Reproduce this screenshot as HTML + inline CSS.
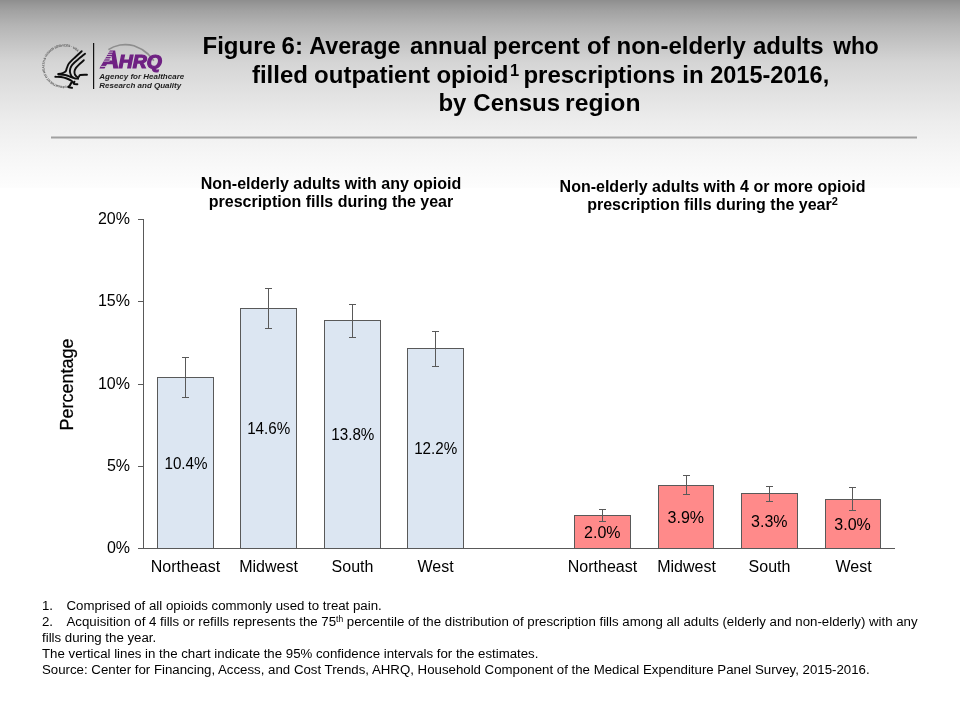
<!DOCTYPE html>
<html lang="en">
<head>
<meta charset="utf-8">
<title>Figure 6: Average annual percent of non-elderly adults who filled outpatient opioid prescriptions in 2015-2016, by Census region</title>
<style>
html,body{margin:0;padding:0;background:#fff;}
body{width:960px;height:720px;overflow:hidden;position:relative;}
svg{display:block;position:absolute;left:0;top:0;}
text{font-family:"Liberation Sans",sans-serif;fill:#000;}
.t2 text{font-size:24px;font-weight:bold;}
.ct{font-size:16px;font-weight:bold;text-anchor:middle;}
.ax{font-size:16px;fill:#1a1a1a;}
.ring{font-size:3.2px;fill:#555;font-weight:bold;}
.ahrq{font-weight:bold;font-style:italic;fill:#6f2183;stroke:#6f2183;stroke-width:1px;stroke-linejoin:miter;}
.agency{font-size:8px;font-weight:bold;font-style:italic;fill:#1c1c1c;}
.fn{font-size:13.25px;fill:#000;}
.bar1{fill:#dce6f2;stroke:#595959;stroke-width:1;}
.bar2{fill:#ff8a8a;stroke:#595959;stroke-width:1;}
.ln{stroke:#595959;stroke-width:1;fill:none;shape-rendering:crispEdges;}
</style>
</head>
<body>
<svg width="960" height="720" viewBox="0 0 960 720">
<defs>
<linearGradient id="bg" x1="0" y1="0" x2="0" y2="188" gradientUnits="userSpaceOnUse">
<stop offset="0.0000" stop-color="#8e8e8e"/>
<stop offset="0.0266" stop-color="#989898"/>
<stop offset="0.0585" stop-color="#a2a2a2"/>
<stop offset="0.1383" stop-color="#b5b5b5"/>
<stop offset="0.2261" stop-color="#c4c4c4"/>
<stop offset="0.3324" stop-color="#d5d5d5"/>
<stop offset="0.4574" stop-color="#dfdfdf"/>
<stop offset="0.6489" stop-color="#ededed"/>
<stop offset="0.8245" stop-color="#f6f6f6"/>
<stop offset="1.0000" stop-color="#fdfdfd"/>
</linearGradient>
</defs>
<rect x="0" y="0" width="960" height="188" fill="url(#bg)"/>

<!-- logo -->
<g id="logo">
<defs><path id="ring" d="M66.5 85.75 A19.7 19.7 0 1 1 78.25 52.5"/></defs>
<text class="ring"><textPath href="#ring" textLength="79" lengthAdjust="spacing">DEPARTMENT OF HEALTH &amp; HUMAN SERVICES · USA</textPath></text>
<g fill="none" stroke="#0d0d0d" stroke-width="1.9" stroke-linecap="round" stroke-linejoin="round">
<path d="M81.7 51.2C80.6 52.2 77.3 55.2 75.2 57.2C73.0 59.3 70.3 61.8 68.9 63.5C67.6 65.2 67.6 66.3 67.0 67.7C66.4 69.0 66.3 70.5 65.6 71.4C64.9 72.3 63.9 72.7 62.7 73.1C61.5 73.5 59.1 73.8 58.3 73.9"/>
<path d="M85.0 53.7C83.8 54.7 79.8 57.9 77.7 59.8C75.5 61.6 73.5 63.3 72.2 64.8C71.0 66.2 70.7 67.2 70.3 68.5C70.0 69.8 69.8 71.0 70.0 72.2C70.2 73.5 70.9 75.1 71.4 76.0C71.9 76.9 72.8 77.2 73.1 77.5"/>
<path d="M83.8 60.2C83.0 60.9 80.7 63.0 79.3 64.3C78.0 65.7 76.6 66.9 75.8 68.1C75.0 69.3 74.6 70.3 74.5 71.4C74.4 72.5 74.5 73.8 75.0 74.8C75.5 75.7 76.6 76.7 77.2 77.0C77.9 77.3 78.4 77.0 78.9 76.7C79.4 76.3 78.8 75.3 80.2 75.0C81.5 74.7 85.9 74.8 87.0 74.8"/>
<path d="M55.3 76.8C56.3 76.9 59.1 76.7 61.0 77.0C62.9 77.3 65.0 77.8 66.8 78.5C68.6 79.2 70.8 80.3 71.8 81.0C72.9 81.7 73.1 82.5 73.3 82.8"/>
<path d="M58.5 74.5C59.6 74.6 63.1 74.6 65.2 75.0C67.2 75.4 69.3 76.4 71.0 77.0C72.7 77.6 74.0 78.2 75.2 78.5C76.3 78.8 77.6 78.6 78.1 78.7"/>
<path d="M71.4 82.7C71.1 83.2 70.3 84.9 69.8 85.6C69.2 86.3 68.0 86.6 68.3 87.0C68.7 87.4 71.4 87.7 72.0 87.8" stroke-width="2.1"/>
<path d="M74.5 81.7C74.4 82.0 73.2 83.5 73.7 83.9C74.2 84.4 76.8 84.3 77.4 84.3"/>
</g>
<rect x="93" y="43" width="1.2" height="46" fill="#111"/>
<path d="M108.4 49.6 Q113 46.4 120 45 Q127 43.8 134 45.8 Q142 48.6 148 54 Q151.5 57.4 153.8 60.8" fill="none" stroke="#8e8e8e" stroke-width="1.7"/>
<text class="ahrq" x="101" y="68.2" textLength="18.4" lengthAdjust="spacingAndGlyphs" style="font-size:23.4px;stroke-width:1.2px">A</text>
<clipPath id="aleg"><path d="M99.5 69.6 L106.8 69.6 L113.4 50.5 L109.2 50.5 Z"/></clipPath>
<path clip-path="url(#aleg)" d="M99 52.1H113 M99 54.35H113 M99 56.6H113 M99 58.85H113 M99 61.1H113 M99 66.4H113" stroke="#d0d0d0" stroke-width="0.9" fill="none"/>
<text class="ahrq" x="118.7" y="68.2" textLength="43" lengthAdjust="spacingAndGlyphs" style="font-size:17.6px;stroke-width:1.2px">HRQ</text>
<text class="agency" x="99.3" y="78.6">Agency for Healthcare</text>
<text class="agency" x="99.3" y="88.2">Research and Quality</text>
</g>

<!-- title -->
<g class="t2">
<text y="54"><tspan x="202.5">Figure</tspan> <tspan x="281.6">6:</tspan> <tspan x="309.2" textLength="91.2" lengthAdjust="spacingAndGlyphs">Average</tspan> <tspan x="410.1">annual</tspan> <tspan x="493.1">percent</tspan> <tspan x="587">of</tspan> <tspan x="616.5">non-elderly</tspan> <tspan x="753">adults</tspan> <tspan x="833.2" textLength="45.6" lengthAdjust="spacingAndGlyphs">who</tspan></text>
<text y="82.5"><tspan x="251.9">filled</tspan> <tspan x="314.1">outpatient</tspan> <tspan x="436.4">opioid</tspan><tspan x="509.9" dy="-7" font-size="16.5px">1</tspan> <tspan x="523.4" dy="7">prescriptions</tspan> <tspan x="682.3">in</tspan> <tspan x="710.2" textLength="119" lengthAdjust="spacingAndGlyphs">2015-2016,</tspan></text>
<text y="111"><tspan x="438.4">by</tspan> <tspan x="473.3">Census</tspan> <tspan x="565.1" textLength="75.4" lengthAdjust="spacingAndGlyphs">region</tspan></text>
</g>
<rect x="51" y="136.5" width="866" height="2" fill="#a0a0a0"/>

<!-- chart titles -->
<text class="ct" x="331" y="189">Non-elderly adults with any opioid</text>
<text class="ct" x="331" y="207">prescription fills during the year</text>
<text class="ct" x="712.5" y="191.5">Non-elderly adults with 4 or more opioid</text>
<text class="ct" x="712.5" y="210">prescription fills during the year<tspan font-size="11px" dy="-5">2</tspan></text>

<!-- axes -->
<path class="ln" d="M143.5 219V548.5 M143.5 548.5H895 M138 219.5H143.5 M138 301.5H143.5 M138 384.5H143.5 M138 466.5H143.5 M138 548.5H143.5"/>
<g class="ax" text-anchor="end">
<text x="130" y="223.8">20%</text>
<text x="130" y="305.8">15%</text>
<text x="130" y="388.8">10%</text>
<text x="130" y="470.8">5%</text>
<text x="130" y="552.8">0%</text>
</g>
<text transform="translate(73,384.5) rotate(-90)" text-anchor="middle" style="font-size:18px;fill:#000;stroke:#000;stroke-width:0.25px">Percentage</text>

<!-- bars -->
<rect class="bar1" x="157.5" y="377.5" width="56" height="171"/>
<rect class="bar1" x="240.5" y="308.5" width="56" height="240"/>
<rect class="bar1" x="324.5" y="320.5" width="56" height="228"/>
<rect class="bar1" x="407.5" y="348.5" width="56" height="200"/>
<rect class="bar2" x="574.5" y="515.5" width="56" height="33"/>
<rect class="bar2" x="658.5" y="485.5" width="55" height="63"/>
<rect class="bar2" x="741.5" y="493.5" width="56" height="55"/>
<rect class="bar2" x="825.5" y="499.5" width="55" height="49"/>

<!-- error bars -->
<path class="ln" d="M185.5 357V397 M182 357.5H189 M182 397.5H189"/>
<path class="ln" d="M268.5 288V328 M265 288.5H272 M265 328.5H272"/>
<path class="ln" d="M352.5 304V337 M349 304.5H356 M349 337.5H356"/>
<path class="ln" d="M435.5 331V366 M432 331.5H439 M432 366.5H439"/>
<path class="ln" d="M602.5 509V521 M599 509.5H606 M599 521.5H606"/>
<path class="ln" d="M686.5 475V494 M683 475.5H690 M683 494.5H690"/>
<path class="ln" d="M769.5 486V501 M766 486.5H773 M766 501.5H773"/>
<path class="ln" d="M852.5 487V510 M849 487.5H856 M849 510.5H856"/>

<!-- data labels -->
<g class="ax" text-anchor="middle">
<text x="186" y="468.8" textLength="43.1" lengthAdjust="spacingAndGlyphs">10.4%</text>
<text x="268.7" y="433.8" textLength="43.1" lengthAdjust="spacingAndGlyphs">14.6%</text>
<text x="352.8" y="439.8" textLength="43.1" lengthAdjust="spacingAndGlyphs">13.8%</text>
<text x="435.7" y="453.8" textLength="43.1" lengthAdjust="spacingAndGlyphs">12.2%</text>
</g>
<g class="ax" text-anchor="middle">
<text x="602.3" y="538">2.0%</text>
<text x="685.8" y="523">3.9%</text>
<text x="769.3" y="527">3.3%</text>
<text x="852.6" y="530">3.0%</text>
</g>
<g class="ax" text-anchor="middle">
<text x="185.5" y="572">Northeast</text>
<text x="268.5" y="572">Midwest</text>
<text x="352.5" y="572">South</text>
<text x="435.5" y="572">West</text>
<text x="602.5" y="572">Northeast</text>
<text x="686.5" y="572">Midwest</text>
<text x="769.5" y="572">South</text>
<text x="853.5" y="572">West</text>
</g>

<!-- footnotes -->
<g class="fn">
<text x="42" y="609.5">1.</text><text x="66.5" y="609.5">Comprised of all opioids commonly used to treat pain.</text>
<text x="42" y="625.5">2.</text><text x="66.5" y="625.5">Acquisition of 4 fills or refills represents the 75<tspan font-size="8.5px" dy="-4">th</tspan><tspan dy="4"> percentile of the distribution of prescription fills among all adults (elderly and non-elderly) with any</tspan></text>
<text x="42" y="641.5">fills during the year.</text>
<text x="42" y="657.5">The vertical lines in the chart indicate the 95% confidence intervals for the estimates.</text>
<text x="42" y="673.5">Source: Center for Financing, Access, and Cost Trends, AHRQ, Household Component of the Medical Expenditure Panel Survey, 2015-2016.</text>
</g>
</svg>
</body>
</html>
